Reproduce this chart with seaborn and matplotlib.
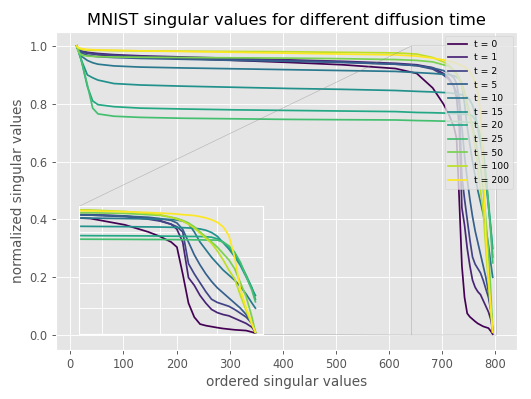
import numpy as np
import pandas as pd
import matplotlib
matplotlib.use("Agg")
import matplotlib.pyplot as plt
import seaborn as sns

# ---------------- data ----------------
diffusion_times = [0, 1, 2, 5, 10, 15, 20, 25, 50, 100, 200]

# ordered singular value index at which values were read
sv_index = [0, 2, 5, 10, 20, 30, 40, 70, 120, 200, 300, 400, 500, 600, 640,
            670, 690, 700, 710, 715, 720, 725, 730, 735, 740, 745, 750, 755,
            760, 765, 770, 775, 780, 783]

sv_t0 = [1.0, 0.99, 0.985, 0.98, 0.975, 0.973, 0.97, 0.966, 0.962, 0.957, 0.95,
         0.943, 0.935, 0.922, 0.905, 0.855, 0.80, 0.765, 0.72, 0.68, 0.47, 0.24,
         0.13, 0.075, 0.063, 0.055, 0.047, 0.04, 0.035, 0.03, 0.027, 0.024, 0.012, 0.003]
sv_t1 = [1.0, 0.99, 0.986, 0.982, 0.978, 0.976, 0.974, 0.97, 0.966, 0.962, 0.957,
         0.952, 0.947, 0.94, 0.935, 0.925, 0.905, 0.89, 0.86, 0.82, 0.72, 0.44,
         0.38, 0.30, 0.24, 0.19, 0.165, 0.15, 0.14, 0.12, 0.10, 0.08, 0.05, 0.01]
sv_t2 = [1.0, 0.99, 0.985, 0.98, 0.976, 0.973, 0.971, 0.967, 0.963, 0.959, 0.954,
         0.949, 0.944, 0.937, 0.932, 0.92, 0.9, 0.885, 0.86, 0.84, 0.8, 0.55,
         0.47, 0.40, 0.33, 0.27, 0.245, 0.23, 0.215, 0.19, 0.16, 0.13, 0.08, 0.01]
sv_t5 = [1.0, 0.99, 0.982, 0.975, 0.968, 0.965, 0.963, 0.96, 0.957, 0.954, 0.95,
         0.947, 0.943, 0.937, 0.932, 0.924, 0.915, 0.905, 0.89, 0.87, 0.82, 0.72,
         0.62, 0.54, 0.47, 0.41, 0.36, 0.32, 0.28, 0.24, 0.2, 0.15, 0.08, 0.01]
sv_t10 = [1.0, 0.99, 0.978, 0.963, 0.95, 0.942, 0.937, 0.931, 0.927, 0.924, 0.921,
          0.918, 0.915, 0.912, 0.908, 0.905, 0.902, 0.9, 0.897, 0.893, 0.885, 0.865,
          0.8, 0.72, 0.66, 0.6, 0.55, 0.5, 0.46, 0.42, 0.37, 0.31, 0.24, 0.2]
sv_t15 = [1.0, 0.99, 0.97, 0.945, 0.9, 0.89, 0.882, 0.87, 0.865, 0.861, 0.857,
          0.853, 0.85, 0.846, 0.843, 0.841, 0.839, 0.838, 0.836, 0.835, 0.833, 0.831,
          0.828, 0.823, 0.813, 0.795, 0.765, 0.715, 0.665, 0.605, 0.535, 0.445, 0.355, 0.3]
sv_t20 = [1.0, 0.99, 0.975, 0.94, 0.86, 0.81, 0.797, 0.79, 0.785, 0.782, 0.779,
          0.777, 0.775, 0.773, 0.77, 0.769, 0.768, 0.767, 0.766, 0.766, 0.765, 0.764,
          0.764, 0.763, 0.762, 0.758, 0.745, 0.72, 0.68, 0.62, 0.55, 0.46, 0.36, 0.27]
sv_t25 = [1.0, 0.99, 0.975, 0.94, 0.865, 0.785, 0.765, 0.757, 0.753, 0.75, 0.748,
          0.746, 0.745, 0.744, 0.742, 0.741, 0.74, 0.74, 0.739, 0.739, 0.738, 0.738,
          0.737, 0.737, 0.736, 0.736, 0.735, 0.72, 0.69, 0.64, 0.56, 0.45, 0.34, 0.25]
sv_t50 = [1.0, 0.985, 0.975, 0.968, 0.965, 0.964, 0.963, 0.962, 0.961, 0.96, 0.959,
          0.958, 0.956, 0.953, 0.95, 0.945, 0.935, 0.93, 0.915, 0.905, 0.89, 0.87,
          0.84, 0.8, 0.76, 0.72, 0.68, 0.63, 0.58, 0.51, 0.4, 0.29, 0.13, 0.01]
sv_t100 = [1.0, 0.995, 0.99, 0.988, 0.986, 0.985, 0.985, 0.984, 0.983, 0.982, 0.981,
           0.98, 0.978, 0.976, 0.972, 0.96, 0.945, 0.935, 0.915, 0.9, 0.885, 0.86,
           0.83, 0.79, 0.75, 0.71, 0.65, 0.58, 0.5, 0.43, 0.3, 0.18, 0.07, 0.01]
sv_t200 = [1.0, 0.995, 0.993, 0.99, 0.988, 0.987, 0.986, 0.985, 0.983, 0.981, 0.978,
           0.975, 0.972, 0.969, 0.965, 0.958, 0.952, 0.948, 0.943, 0.94, 0.935, 0.932,
           0.928, 0.92, 0.91, 0.895, 0.875, 0.84, 0.77, 0.6, 0.35, 0.2, 0.08, 0.01]

series = [sv_t0, sv_t1, sv_t2, sv_t5, sv_t10, sv_t15, sv_t20, sv_t25,
          sv_t50, sv_t100, sv_t200]
legend_labels = [f"t = {t}" for t in diffusion_times]

main_index_shift = 12          # main panel index axis is shifted w.r.t. the zoom
zoom_xlim = (630, 790)
zoom_ylim = (0.0, 1.0)

# ---------------- figure ----------------
plt.style.use("ggplot")
DPI = 83
fig = plt.figure(figsize=(531 / DPI, 399 / DPI), dpi=DPI)
ax = fig.add_axes([0.105, 0.124, 0.8694, 0.797])

colors = [plt.cm.viridis(v) for v in np.linspace(0, 1, len(series))]

handles = []
for vals, col, lab in zip(series, colors, legend_labels):
    sns.lineplot(x=np.asarray(sv_index) + main_index_shift, y=vals, color=col,
                 linewidth=1.5, ax=ax, legend=False, estimator=None, sort=False)
    line = ax.lines[-1]
    line.set_label(lab)
    handles.append(line)

ax.set_title("MNIST singular values for different diffusion time", fontsize=14.1)
ax.set_xlabel("ordered singular values", fontsize=11.8)
ax.set_ylabel("normalized singular values", fontsize=11.8)
ax.set_xticks(np.arange(0, 801, 100))

# inset zoom
axins = ax.inset_axes([0.05, 0.05, 0.4, 0.4])
for vals, col in zip(series, colors):
    sns.lineplot(x=sv_index, y=vals, color=col, linewidth=1.5, ax=axins,
                 legend=False, estimator=None, sort=False)
axins.set_xlim(*zoom_xlim)
axins.set_ylim(*zoom_ylim)
axins.set_xlabel("")
axins.set_ylabel("")
axins.tick_params(labelbottom=False, labelleft=False, length=0)

bx0 = zoom_xlim[0] + main_index_shift
ax.indicate_inset(bounds=(bx0, zoom_ylim[0], zoom_xlim[1] - zoom_xlim[0],
                          zoom_ylim[1] - zoom_ylim[0]), inset_ax=axins)
ax.update_datalim([(bx0, zoom_ylim[0]),
                   (zoom_xlim[1] + main_index_shift, zoom_ylim[1])])
ax.autoscale_view()

ax.legend(handles, legend_labels, loc="upper right", fontsize=8)

fig.savefig("out.png", dpi=DPI)
